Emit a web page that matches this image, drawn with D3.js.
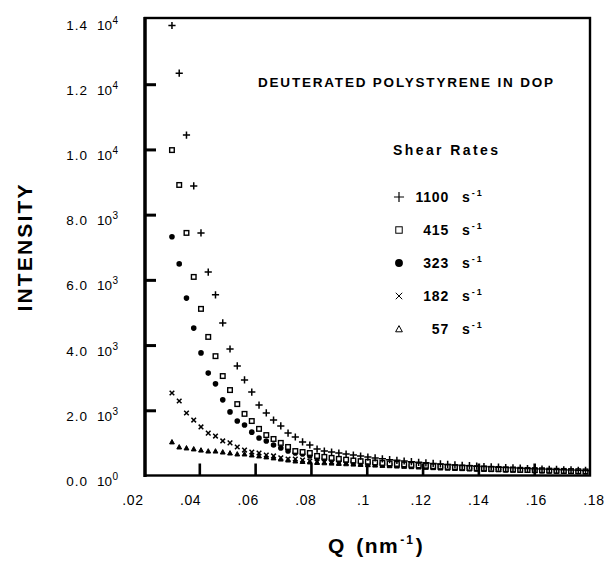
<!DOCTYPE html>
<html>
<head>
<meta charset="utf-8">
<script src="https://cdn.jsdelivr.net/npm/d3@7"></script>
<style>
  body { margin: 0; background: #fff; }
  svg { display: block; font-family: "Liberation Sans", Arial, sans-serif; }
</style>
</head>
<body>
<svg id="chart" width="609" height="564"></svg>
<script>
const qValues = [
  .0302, .0328, .0354, .0380, .0406, .0432, .0458, .0484, .0510, .0536,
  .0562, .0588, .0614, .0640, .0666, .0692, .0718, .0744, .0770, .0796,
  .0822, .0848, .0874, .0900, .0926, .0952, .0978, .1004, .1030, .1056,
  .1082, .1108, .1134, .1160, .1186, .1212, .1238, .1264, .1290, .1316,
  .1342, .1368, .1394, .1420, .1446, .1472, .1498, .1524, .1550, .1576,
  .1602, .1628, .1654, .1680, .1706, .1732, .1758, .1784
]

const rate1100 = [
  13800, 12340, 10440, 8880, 7440, 6240, 5540, 4680, 3880, 3360,
  2930, 2560, 2160, 1920, 1700, 1520, 1300, 1180, 1030, 935,
  810, 750, 720, 690, 660, 625, 595, 565, 540, 510,
  485, 465, 445, 425, 405, 390, 370, 355, 340, 325,
  310, 300, 285, 275, 265, 255, 245, 235, 225, 215,
  205, 200, 190, 185, 175, 170, 160, 155
]
const rate415 = [
  9980, 8910, 7440, 6090, 5110, 4250, 3660, 3050, 2620, 2190,
  1890, 1670, 1430, 1240, 1120, 1000, 875, 750, 720, 690,
  600, 570, 540, 510, 485, 460, 440, 420, 400, 385,
  370, 355, 340, 325, 310, 300, 285, 275, 265, 255,
  245, 235, 225, 215, 205, 200, 190, 185, 175, 170,
  165, 160, 150, 145, 140, 135, 130, 125
]
const rate323 = [
  7320, 6490, 5440, 4520, 3760, 3140, 2810, 2320, 1950, 1670,
  1550, 1330, 1150, 1060, 935, 845, 750, 690, 660, 600,
  540, 505, 475, 455, 435, 415, 400, 385, 370, 355,
  340, 325, 315, 300, 290, 280, 270, 260, 250, 240,
  230, 220, 210, 205, 195, 190, 180, 175, 170, 165,
  160, 150, 145, 140, 135, 130, 125, 120
]
const rate182 = [
  2530, 2285, 1917, 1700, 1490, 1300, 1210, 1060, 1000, 875,
  780, 720, 690, 630, 600, 540, 505, 505, 475, 445,
  415, 415, 415, 400, 390, 375, 365, 350, 340, 330,
  320, 310, 300, 290, 280, 270, 260, 250, 240, 230,
  225, 215, 205, 200, 190, 185, 175, 170, 165, 160,
  155, 150, 145, 140, 135, 130, 125, 120
]
const rate57 = [
  1030, 875, 845, 815, 780, 750, 750, 720, 690, 660,
  660, 630, 600, 570, 540, 505, 475, 445, 430, 415,
  400, 390, 380, 370, 360, 350, 340, 330, 320, 310,
  300, 290, 280, 270, 260, 250, 240, 230, 225, 215,
  210, 200, 195, 190, 180, 175, 170, 165, 160, 155,
  150, 145, 140, 135, 130, 125, 120, 115
]

const rateLabels = ['1100', '415', '323', '182', '57']
const rateSymbols = ['plus', 'square', 'dot', 'cross', 'triangle']
const xTicks = [.02, .04, .06, .08, .1, .12, .14, .16, .18]
const xTickLabels = ['.02', '.04', '.06', '.08', '.1', '.12', '.14', '.16', '.18']
const yTicks = [0, 2000, 4000, 6000, 8000, 10000, 12000, 14000]
const yMantissa = ['0.0', '2.0', '4.0', '6.0', '8.0', '1.0', '1.2', '1.4']
const yExponent = ['0', '3', '3', '3', '3', '4', '4', '4']

const series = [rate1100, rate415, rate323, rate182, rate57].map((values, i) => ({
  symbol: rateSymbols[i],
  label: rateLabels[i],
  points: values.map((v, j) => ({ q: qValues[j], v }))
}))

const svg = d3.select('#chart')
const x = d3.scaleLinear().domain([.02, .18]).range([143.5, 590])
const xLabel = d3.scaleLinear().domain([.02, .18]).range([133, 594])
const y = d3.scaleLinear().domain([0, 14000]).range([475.5, 19])

const drawSymbol = (sel, symbol, big) => {
  const s = big ? 1.4 : 1
  if (symbol === 'plus') {
    sel.append('path').attr('d', `M${-3.6 * s},0H${3.6 * s}M0,${-3.6 * s}V${3.6 * s}`)
      .attr('stroke', '#000').attr('stroke-width', big ? 1.2 : 1.5)
  } else if (symbol === 'square') {
    sel.append('rect').attr('x', -2.3 * s).attr('y', -2.3 * s)
      .attr('width', 4.6 * s).attr('height', 4.6 * s)
      .attr('fill', '#fff').attr('stroke', '#000').attr('stroke-width', big ? 1 : 1.4)
  } else if (symbol === 'dot') {
    sel.append('circle').attr('r', 2.8 * s).attr('fill', '#000')
  } else if (symbol === 'cross') {
    sel.append('path').attr('d', `M${-2.3 * s},${-2.3 * s}L${2.3 * s},${2.3 * s}M${-2.3 * s},${2.3 * s}L${2.3 * s},${-2.3 * s}`)
      .attr('stroke', '#000').attr('stroke-width', big ? 1 : 1.5)
  } else {
    sel.append('path').attr('d', `M0,${-2.4 * s}L${2.4 * s},${2 * s}L${-2.4 * s},${2 * s}Z`)
      .attr('fill', big ? '#fff' : '#000').attr('stroke', '#000').attr('stroke-width', 1)
  }
}

// data
series.slice().reverse().forEach(s => {
  svg.append('g').selectAll('g').data(s.points).join('g')
    .attr('transform', d => `translate(${x(d.q)},${y(d.v)})`)
    .each(function() { drawSymbol(d3.select(this), s.symbol, false) })
})

// frame
svg.append('rect')
  .attr('x', x(.02) + 1.5).attr('y', y(14000) - 1)
  .attr('width', x(.18) - x(.02) - 1.5).attr('height', y(0) - y(14000) + 1)
  .attr('fill', 'none').attr('stroke', '#000').attr('stroke-width', 2.4)
svg.append('line')
  .attr('x1', x(.02) + 1.5).attr('x2', x(.02) + 1.5)
  .attr('y1', y(14000) - 2).attr('y2', y(0) + 1.5)
  .attr('stroke', '#000').attr('stroke-width', 3.4)

// axes
svg.append('g').attr('transform', `translate(${x(.02) + 1.5},0)`)
  .call(d3.axisRight(y).tickValues(yTicks.slice(1, -1)).tickSize(11).tickFormat(''))
  .call(g => g.select('.domain').remove())
  .call(g => g.selectAll('line').attr('stroke-width', 3))
svg.append('g').attr('transform', `translate(0,${y(0)})`)
  .call(d3.axisTop(x).tickValues(xTicks.slice(1, -1)).tickSize(12).tickFormat(''))
  .call(g => g.select('.domain').remove())
  .call(g => g.selectAll('line').attr('stroke-width', 2.6))

svg.append('g').selectAll('text').data(xTicks).join('text')
  .attr('x', d => xLabel(d)).attr('y', 505)
  .attr('text-anchor', 'middle').attr('font-size', 14).attr('letter-spacing', 0.6)
  .text((d, i) => xTickLabels[i])

const yLab = svg.append('g').selectAll('g').data(yTicks).join('g')
  .attr('transform', d => `translate(0,${y(d) + 10.5})`)
yLab.append('text').attr('x', 88).attr('text-anchor', 'end')
  .attr('font-size', 13.5).attr('letter-spacing', 1)
  .text((d, i) => yMantissa[i])
yLab.append('text').attr('x', 97).attr('font-size', 13.5)
  .text('10')
  .append('tspan').attr('font-size', 10).attr('dy', -6).attr('dx', 0.5)
  .text((d, i) => yExponent[i])

// titles
svg.append('text')
  .attr('transform', 'translate(32,248) rotate(-90)')
  .attr('text-anchor', 'middle').attr('font-weight', 'bold').attr('font-size', 21)
  .attr('textLength', 127).attr('lengthAdjust', 'spacing')
  .text('INTENSITY')

const qTitle = svg.append('text').attr('x', 328).attr('y', 553)
  .attr('font-weight', 'bold').attr('font-size', 21)
qTitle.append('tspan').attr('letter-spacing', 1.5).attr('word-spacing', 3).text('Q (nm')
qTitle.append('tspan').attr('font-size', 12).attr('dy', -9).attr('dx', 1)
  .attr('letter-spacing', 2).text('-1')
qTitle.append('tspan').attr('dy', 9).attr('dx', 1).text(')')

svg.append('text').attr('x', 258).attr('y', 87)
  .attr('font-weight', 'bold').attr('font-size', 13.5)
  .attr('textLength', 295).attr('lengthAdjust', 'spacing')
  .text('DEUTERATED POLYSTYRENE IN DOP')

svg.append('text').attr('x', 393).attr('y', 155)
  .attr('font-weight', 'bold').attr('font-size', 14)
  .attr('textLength', 105).attr('lengthAdjust', 'spacing')
  .text('Shear Rates')

// legend
const legendY = d3.scalePoint().domain(rateLabels).range([197, 329])
const legend = svg.append('g').selectAll('g').data(series).join('g')
  .attr('transform', d => `translate(0,${legendY(d.label)})`)
legend.append('g').attr('transform', 'translate(399,0)')
  .each(function(d) { drawSymbol(d3.select(this), d.symbol, true) })
legend.append('text').attr('x', 449).attr('y', 5)
  .attr('text-anchor', 'end').attr('font-weight', 'bold').attr('font-size', 14)
  .attr('letter-spacing', 0.8)
  .text(d => d.label)
legend.append('text').attr('x', 462).attr('y', 5)
  .attr('font-weight', 'bold').attr('font-size', 14)
  .text('s')
  .append('tspan').attr('font-size', 9).attr('dy', -6).attr('dx', 2)
  .attr('letter-spacing', 2).text('-1')
</script>
</body>
</html>
